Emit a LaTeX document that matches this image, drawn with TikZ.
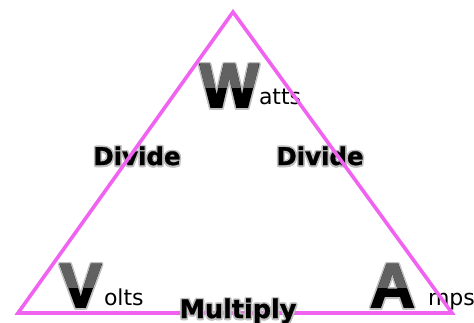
\documentclass[tikz,border=0pt]{standalone}
\usepackage{fontspec}
\setmainfont{DejaVu Sans}
\newfontfamily\bigfont{Liberation Sans Bold}[FakeBold=2.5]
\newfontfamily\midfont{DejaVu Sans Bold}[FakeBold=1]
\definecolor{tripink}{RGB}{240,98,240}
\newcommand{\glowtext}[5]{% name, position, anchor, font, text
  \foreach \gx/\gy in {-1.6/0,1.6/0,0/-2.2,0/1.4,-1.2/-1.8,1.2/1.2,-1.2/1.2,1.2/-1.8}{%
    \node[txt,font=#4,text=gray!50,anchor=#3,xshift=\gx pt,yshift=\gy pt] at (#2) {#5};}
  \node[txt,font=#4,anchor=#3] (#1) at (#2) {#5};}
\newcommand{\bigletter}[3]{% name, position, letter
  \glowtext{#1}{#2}{base west}{\bigfont\fontsize{62}{64}\selectfont}{#3}%
  \begin{scope}
    \clip ([yshift=-23pt]#1.north west) rectangle ([yshift=10pt]#1.north east);
    \node[txt,font=\bigfont\fontsize{62}{64}\selectfont,text=black!62,anchor=base west] at (#2) {#3};
  \end{scope}}
\begin{document}
\begin{tikzpicture}[x=1pt,y=-1pt,
  txt/.style={inner sep=0pt, outer sep=0pt},
  small/.style={txt,font=\fontsize{22}{24}\selectfont,anchor=base west},
  tri/.style={draw=tripink,line width=3.6pt,line join=miter}]
\useasboundingbox (0,0) rectangle (474,322);
% labels
\coordinate (wpos) at (200,107);
\coordinate (vpos) at (60,307);
\coordinate (apos) at (370,307);
\bigletter{W}{wpos}{W}
\bigletter{V}{vpos}{V}
\bigletter{A}{apos}{A}
\node[small] (atts) at (259,104) {atts};
\node[small] (olts) at (104,305) {olts};
\node[small] (mps) at (428,305) {mps};
\coordinate (d1) at (137,165);
\coordinate (d2) at (320,165);
\coordinate (mu) at (238,318);
\glowtext{div1}{d1}{base}{\midfont\fontsize{24.5}{27}\selectfont}{Divide}
\glowtext{div2}{d2}{base}{\midfont\fontsize{24.5}{27}\selectfont}{Divide}
% triangle
\coordinate (top) at (233,12);
\coordinate (bl) at (18,313);
\coordinate (br) at (452,313);
\draw[tri] (top) -- (bl) -- (br) -- cycle;
\glowtext{mult}{mu}{base}{\midfont\fontsize{25.5}{28}\selectfont}{Multiply}
\end{tikzpicture}
\end{document}
